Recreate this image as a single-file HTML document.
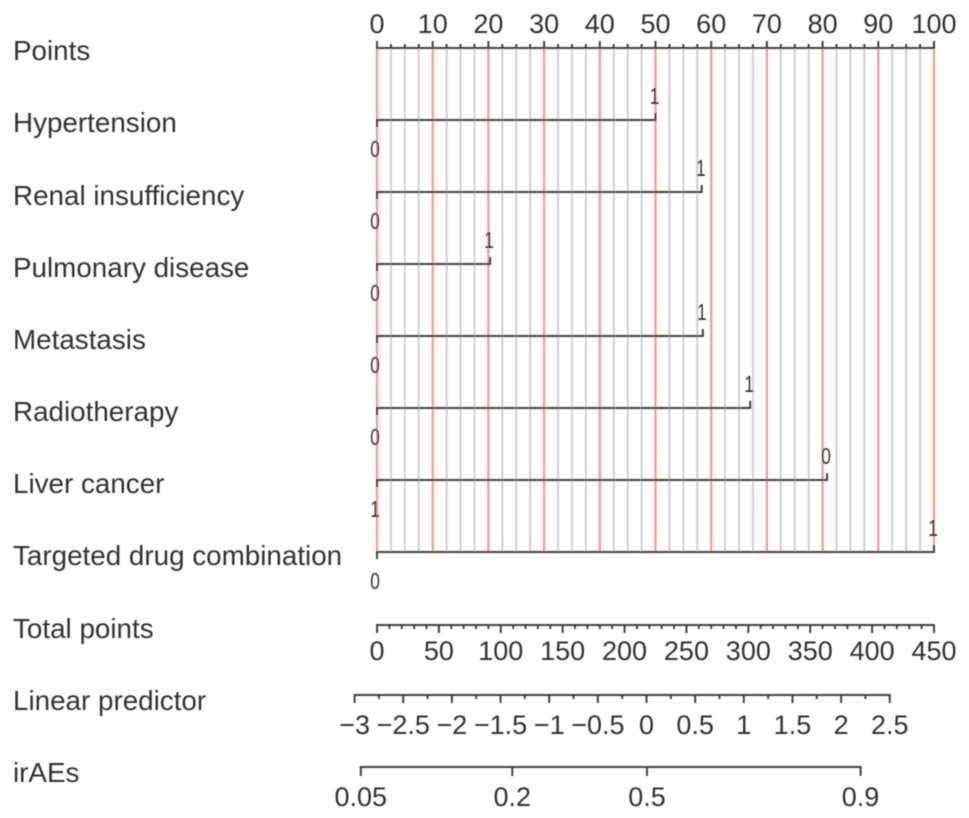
<!DOCTYPE html>
<html lang="en">
<head>
<meta charset="utf-8">
<title>irAEs nomogram</title>
<style>
html,body{margin:0;padding:0;background:#fff;width:969px;height:818px;overflow:hidden}
svg{display:block}
text{font-family:"Liberation Sans",sans-serif;fill:#333}
.name{font-size:27.8px}
.tick{font-size:27px;text-anchor:middle}
.level{font-size:23px;text-anchor:middle}
</style>
</head>
<body>
<svg id="chart" width="969" height="818" viewBox="0 0 969 818" xmlns="http://www.w3.org/2000/svg">
  <defs><filter id="soft" x="-2%" y="-2%" width="104%" height="104%"><feGaussianBlur stdDeviation="0.45"/></filter></defs>
  <g id="plot" filter="url(#soft)">
    <g id="grid"></g>
    <g id="axes"></g>
    <g id="names">
      <text class="name" x="13" y="60">Points</text>
      <text class="name" x="13" y="132">Hypertension</text>
      <text class="name" x="13" y="205">Renal insufficiency</text>
      <text class="name" x="13" y="277">Pulmonary disease</text>
      <text class="name" x="13" y="349">Metastasis</text>
      <text class="name" x="13" y="421">Radiotherapy</text>
      <text class="name" x="13" y="493">Liver cancer</text>
      <text class="name" x="13" y="565">Targeted drug combination</text>
      <text class="name" x="13" y="638">Total points</text>
      <text class="name" x="13" y="710">Linear predictor</text>
      <text class="name" x="13" y="782">irAEs</text>
    </g>
  </g>
</svg>
<script>
var pointTicks = [0,10,20,30,40,50,60,70,80,90,100];
var pointMinorTicks = [2.5,5,7.5,12.5,15,17.5,22.5,25,27.5,32.5,35,37.5,42.5,45,47.5,52.5,55,57.5,62.5,65,67.5,72.5,75,77.5,82.5,85,87.5,92.5,95,97.5];
var rowKeys = ['hypertension','renal-insufficiency','pulmonary-disease','metastasis','radiotherapy','liver-cancer','targeted-drug-combination'];
var upperLevels = ['1','1','1','1','1','0','1'];
var lowerLevels = ['0','0','0','0','0','1','0'];
var upperPoints = [50,58.3,20.3,58.5,67,80.8,100];
var lowerPoints = [0,0,0,0,0,0,0];
var totalTicks = [0,50,100,150,200,250,300,350,400,450];
var totalMinorTicks = [10,20,30,40,60,70,80,90,110,120,130,140,160,170,180,190,210,220,230,240,260,270,280,290,310,320,330,340,360,370,380,390,410,420,430,440];
var linearTicks = [-3,-2.5,-2,-1.5,-1,-0.5,0,0.5,1,1.5,2,2.5];
var linearMinorTicks = [-2.75,-2.25,-1.75,-1.25,-0.75,-0.25,0.25,0.75,1.25,1.75,2.25];
var riskTicks = [0.05,0.2,0.5,0.9];

var NS = 'http://www.w3.org/2000/svg';
var gridLayer = document.getElementById('grid');
var axesLayer = document.getElementById('axes');
var AXIS = '#3f3f3f';

function xPoints(v){ return 377 + v * 5.57; }
function xTotal(v){ return 377 + v * (557 / 450); }
function xLinear(v){ return 646.5 + v * 97.3; }
function xRisk(p){ return 647 + Math.log(p / (1 - p)) * 97.2; }

function line(parent, x1, y1, x2, y2, color, width, name){
  var el = document.createElementNS(NS, 'line');
  el.setAttribute('x1', x1);
  el.setAttribute('y1', y1);
  el.setAttribute('x2', x2);
  el.setAttribute('y2', y2);
  el.setAttribute('stroke', color);
  el.setAttribute('stroke-width', width);
  
  
  parent.appendChild(el);
}
function label(parent, x, y, str, cls, name){
  var el = document.createElementNS(NS, 'text');
  el.setAttribute('class', cls);
  if (cls === 'level') {
    el.setAttribute('transform', 'translate(' + x + ' ' + y + ') scale(0.75 1)');
  } else {
    el.setAttribute('x', x);
    el.setAttribute('y', y);
  }
  el.textContent = str;
  
  
  parent.appendChild(el);
}
function fmt(v){ return String(v).replace('-', '\u2212'); }

/* grid */
pointMinorTicks.forEach(function(v){
  line(gridLayer, xPoints(v), 48, xPoints(v), 552, '#d2d2d2', 2.2, 'minor-gridline');
});
pointTicks.forEach(function(v){
  line(gridLayer, xPoints(v), 48, xPoints(v), 552, '#f9978b', 2.2, 'major-gridline');
});

/* generic scale: dir -1 puts ticks above the line, +1 below */
function scale(key, fn, ticks, minors, y, dir, major, minor, labelY){
  var all = ticks.concat(minors);
  var lo = Math.min.apply(null, all);
  var hi = Math.max.apply(null, all);
  line(axesLayer, fn(lo) - 1, y, fn(hi) + 1, y, AXIS, 2, key + '-axis-line');
  minors.forEach(function(v){
    line(axesLayer, fn(v), y, fn(v), y + dir * minor, AXIS, 2, key + '-minor-tick');
  });
  ticks.forEach(function(v){
    line(axesLayer, fn(v), y, fn(v), y + dir * major, AXIS, 2, key + '-major-tick');
    label(axesLayer, fn(v), labelY, fmt(v), 'tick', key + '-tick-label');
  });
}
scale('points', xPoints, pointTicks, pointMinorTicks, 48, -1, 7, 4, 33);
scale('total-points', xTotal, totalTicks, totalMinorTicks, 625, 1, 8, 4, 660);
scale('linear-predictor', xLinear, linearTicks, linearMinorTicks, 695, 1, 8, 4, 734);
scale('risk', xRisk, riskTicks, [], 767, 1, 9, 0, 806);

/* categorical rows */
rowKeys.forEach(function(key, i){
  var y = 120 + i * 72;
  var xu = xPoints(upperPoints[i]);
  var xl = xPoints(lowerPoints[i]);
  line(axesLayer, Math.min(xu, xl) - 1, y, Math.max(xu, xl) + 1, y, AXIS, 2, key + '-axis-line');
  line(axesLayer, xu, y, xu, y - 7, AXIS, 2, key + '-upper-tick');
  line(axesLayer, xl, y, xl, y + 7, AXIS, 2, key + '-lower-tick');
  label(axesLayer, xu - 1, y - 16, upperLevels[i], 'level', key + '-upper-level');
  label(axesLayer, xl - 2, y + 37, lowerLevels[i], 'level', key + '-lower-level');
});
</script>
</body>
</html>
